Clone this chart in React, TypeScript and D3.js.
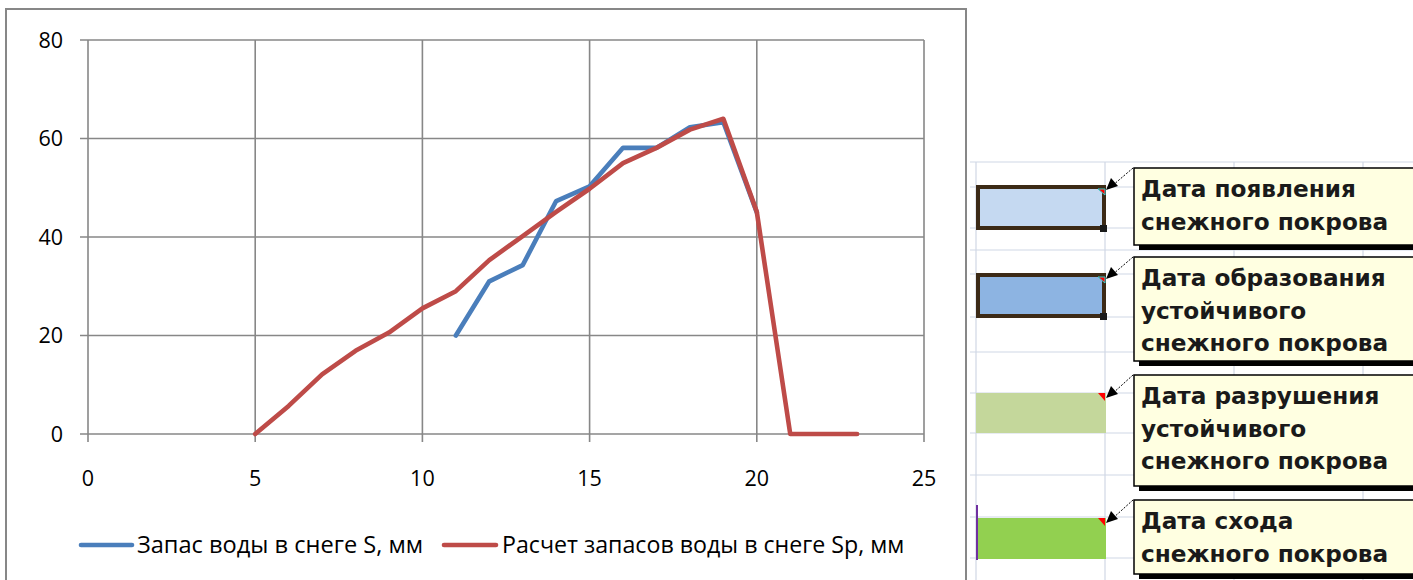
import React from "react";
import * as d3 from "d3";

// Snow water storage: observed S (blue) and calculated Sp (red)
const obsX = [11, 12, 13, 14, 15, 16, 17, 18, 19, 20];
const obsS = [20, 31, 34.3, 47.3, 50.3, 58.1, 58.1, 62.3, 63.3, 45];
const calcX = [5, 6, 7, 8, 9, 10, 11, 12, 13, 14, 15, 16, 17, 18, 19, 20, 21, 22, 23];
const calcSp = [0, 5.7, 12.1, 16.9, 20.6, 25.5, 29.0, 35.3, 40.2, 45.1, 49.8, 55.0, 58.1, 61.8, 64.0, 45.1, 0, 0, 0];
const xTicks = [0, 5, 10, 15, 20, 25];
const yTicks = [0, 20, 40, 60, 80];
const legendLabels = ["Запас воды в снеге S, мм", "Расчет запасов воды в снеге Sp, мм"];

// Worksheet legend of snow-cover dates
const noteLines = [
  ["Дата появления", "снежного покрова"],
  ["Дата образования", "устойчивого", "снежного покрова"],
  ["Дата разрушения", "устойчивого", "снежного покрова"],
  ["Дата схода", "снежного покрова"],
];
const noteFills = ["#c5d9f1", "#8db4e2", "#c4d79b", "#92d050"];

const BLUE = "#4a7ebb";
const RED = "#be4b48";
const GRID = "#878787";
const FONT = "'Open Sans', sans-serif";

export default function App() {
  const x = d3.scaleLinear().domain([0, 25]).range([88, 924]);
  const y = d3.scaleLinear().domain([0, 80]).range([434, 40]);
  const line = d3
    .line<[number, number]>()
    .x((d) => x(d[0]))
    .y((d) => y(d[1]));
  const obsPts = obsX.map((v, i) => [v, obsS[i]] as [number, number]);
  const calcPts = calcX.map((v, i) => [v, calcSp[i]] as [number, number]);

  // sheet layout (cells, shapes and comments)
  const cellX = [976, 1105, 1234, 1363];
  const cellY = [162, 187, 228, 250, 274, 317, 352, 393, 433, 475, 517, 558];
  const shapes = [
    { y0: 187, y1: 228, border: true },
    { y0: 275, y1: 316, border: true },
    { y0: 393, y1: 433, border: false },
    { y0: 518, y1: 559, border: false },
  ];
  const notes = [
    { top: 168, bottom: 245, tipY: 190 },
    { top: 257, bottom: 361, tipY: 279 },
    { top: 375, bottom: 486, tipY: 398 },
    { top: 500, bottom: 574, tipY: 523 },
  ];

  return (
    <div style={{ position: "fixed", left: 0, top: 0, width: 1413, height: 580, background: "#fff" }}>
      <svg width={1413} height={580} style={{ display: "block" }}>
        {/* chart frame */}
        <rect x={6} y={9} width={960} height={600} fill="#fff" stroke={GRID} strokeWidth={2} />

        {/* gridlines */}
        {yTicks.map((t) => (
          <line key={"gy" + t} x1={80} x2={x(25)} y1={y(t)} y2={y(t)} stroke={GRID} strokeWidth={1.6} />
        ))}
        {xTicks.map((t) => (
          <line key={"gx" + t} x1={x(t)} x2={x(t)} y1={y(80)} y2={y(0) + 8} stroke={GRID} strokeWidth={1.6} />
        ))}

        {/* axis labels */}
        {yTicks.map((t) => (
          <text key={"ly" + t} x={63} y={y(t)} dy="0.36em" textAnchor="end" fontFamily={FONT} fontSize={21.5} fill="#000">
            {t}
          </text>
        ))}
        {xTicks.map((t) => (
          <text key={"lx" + t} x={x(t)} y={486} textAnchor="middle" fontFamily={FONT} fontSize={21.5} fill="#000">
            {t}
          </text>
        ))}

        {/* series */}
        <path d={line(obsPts) || ""} fill="none" stroke={BLUE} strokeWidth={4.6} strokeLinejoin="round" strokeLinecap="round" />
        <path d={line(calcPts) || ""} fill="none" stroke={RED} strokeWidth={4.6} strokeLinejoin="round" strokeLinecap="round" />

        {/* legend */}
        <line x1={81} x2={132} y1={545} y2={545} stroke={BLUE} strokeWidth={4.6} strokeLinecap="round" />
        <text x={137} y={553} fontFamily={FONT} fontSize={23.6} fill="#000">{legendLabels[0]}</text>
        <line x1={444} x2={496} y1={545} y2={545} stroke={RED} strokeWidth={4.6} strokeLinecap="round" />
        <text x={502} y={553} fontFamily={FONT} fontSize={23.2} fill="#000">{legendLabels[1]}</text>

        {/* worksheet area */}
        {cellX.map((cx) => (
          <line key={"cx" + cx} x1={cx} x2={cx} y1={162} y2={580} stroke="#d0d7e5" strokeWidth={1.2} />
        ))}
        {cellY.map((cy) => (
          <line key={"cy" + cy} x1={970} x2={1413} y1={cy} y2={cy} stroke="#d0d7e5" strokeWidth={1.2} />
        ))}

        {shapes.map((s, i) => (
          <g key={"sh" + i}>
            <rect
              x={s.border ? 978 : 976}
              y={s.y0}
              width={s.border ? 126 : 130}
              height={s.y1 - s.y0}
              fill={noteFills[i]}
              stroke={s.border ? "#3c2a16" : "none"}
              strokeWidth={s.border ? 4 : 0}
            />
            <path
              d={`M${1098},${s.y0 + (s.border ? 2 : 0)} L${1105},${s.y0 + (s.border ? 2 : 0)} L${1105},${s.y0 + 8} Z`}
              fill="#ff0000"
              stroke={s.border ? "#35d0d0" : "none"}
              strokeWidth={1}
            />
            {s.border && <rect x={1100} y={s.y1 - 3} width={7} height={7} fill="#1a1a1a" />}
          </g>
        ))}
        <line x1={977} x2={977} y1={505} y2={560} stroke="#7030a0" strokeWidth={2} />

        {notes.map((n, i) => (
          <g key={"nt" + i}>
            <rect x={1139} y={n.top + 5} width={300} height={n.bottom - n.top} fill="#000" />
            <rect x={1134} y={n.top} width={300} height={n.bottom - n.top} fill="#ffffe1" stroke="#000" strokeWidth={1.5} />
            <line x1={1133} y1={n.top} x2={1112} y2={n.tipY - 4} stroke="#000" strokeWidth={1} strokeDasharray="2,1.5" />
            <path d={`M1106,${n.tipY} L1118,${n.tipY - 4} L1111,${n.tipY - 12} Z`} fill="#000" />
            {noteLines[i].map((t, j) => (
              <text
                key={j}
                x={1141}
                y={n.top + 29 + j * 32.5}
                fontFamily="'DejaVu Sans', sans-serif"
                fontWeight="bold"
                fontSize={23.2}
                fill="#1a1a1a"
              >
                {t}
              </text>
            ))}
          </g>
        ))}
      </svg>
    </div>
  );
}
